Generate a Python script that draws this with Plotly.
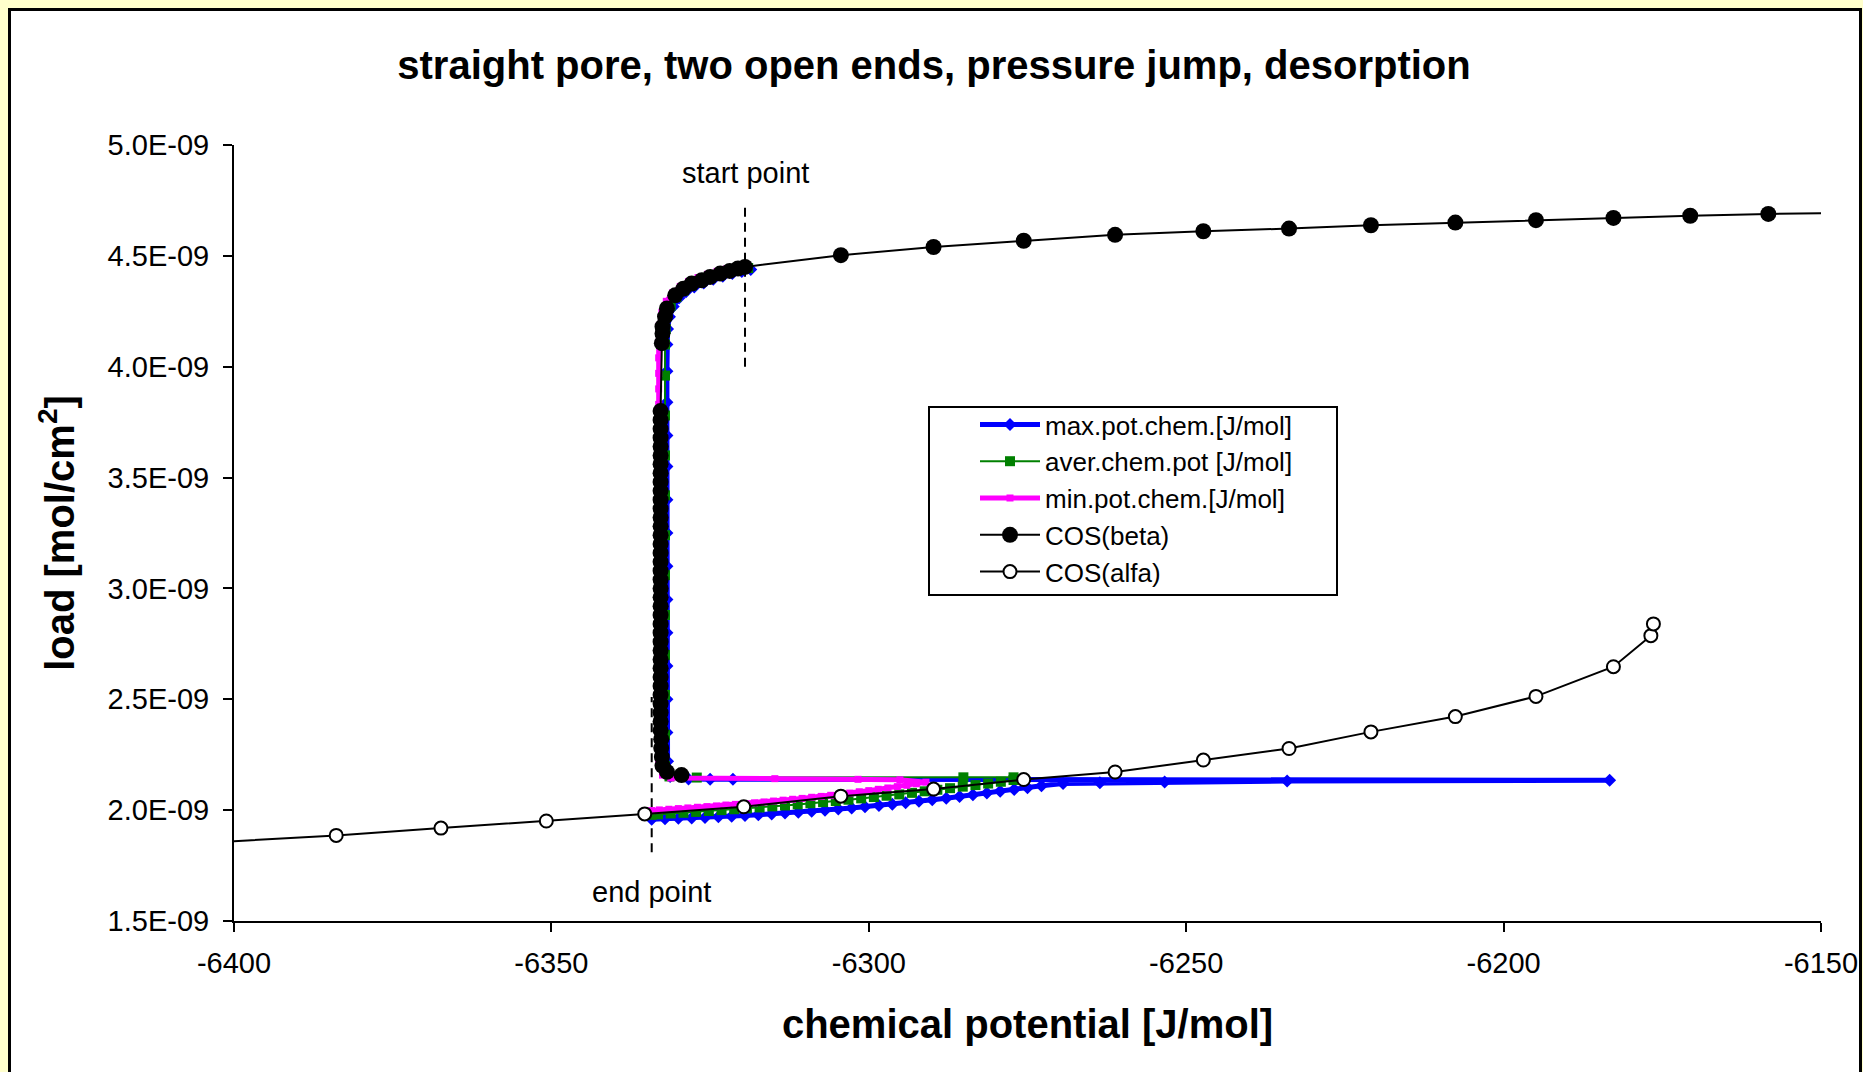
import plotly.graph_objects as go
import numpy as np

# ---------------- text ----------------
chart_title = "straight pore, two open ends, pressure jump, desorption"
x_title = "chemical potential [J/mol]"
y_title = "load [mol/cm<sup>2</sup>]"
x_tick_vals = [-6400, -6350, -6300, -6250, -6200, -6150]
x_tick_text = ["-6400", "-6350", "-6300", "-6250", "-6200", "-6150"]
y_tick_vals_e9 = [1.5, 2.0, 2.5, 3.0, 3.5, 4.0, 4.5, 5.0]
y_tick_text = ["1.5E-09", "2.0E-09", "2.5E-09", "3.0E-09", "3.5E-09", "4.0E-09", "4.5E-09", "5.0E-09"]
series_names = ["max.pot.chem.[J/mol]", "aver.chem.pot [J/mol]", "min.pot.chem.[J/mol]", "COS(beta)", "COS(alfa)"]

# ---------------- data (load in units of 1E-09 mol/cm2) ----------------
max_x = [-6318.6, -6320.0, -6321.5, -6323.0, -6324.5, -6326.0, -6327.5, -6328.8, -6329.9, -6330.8, -6331.4, -6331.7, -6331.8,
         -6331.8, -6331.8, -6331.8, -6331.8, -6331.8, -6331.8, -6331.8, -6331.8, -6331.8, -6331.8, -6331.8, -6331.8, -6331.7,
         -6331.3, -6328.4, -6325.0, -6321.4,
         -6183.3, -6234.1, -6253.4, -6263.6, -6269.4,
         -6272.8, -6275.0, -6277.1, -6279.3, -6281.4, -6283.6, -6285.7, -6287.8, -6290.0, -6292.1, -6294.2, -6296.3, -6298.4,
         -6300.6, -6302.7, -6304.8, -6306.9, -6309.0, -6311.1, -6313.2, -6315.3, -6317.4, -6319.5, -6321.6, -6323.7, -6325.8,
         -6327.9, -6330.0, -6332.1, -6334.2]
max_y = [4.438, 4.430, 4.420, 4.408, 4.394, 4.378, 4.360, 4.338, 4.310, 4.272, 4.225, 4.170, 4.100,
         3.98, 3.84, 3.69, 3.55, 3.40, 3.25, 3.10, 2.95, 2.80, 2.65, 2.50, 2.35, 2.22,
         2.152, 2.140, 2.139, 2.139,
         2.135, 2.131, 2.127, 2.124, 2.120,
         2.110, 2.101, 2.093, 2.085, 2.077, 2.069, 2.061, 2.054, 2.047, 2.040, 2.033, 2.027, 2.021,
         2.015, 2.010, 2.005, 2.000, 1.995, 1.991, 1.987, 1.983, 1.979, 1.976, 1.973, 1.970, 1.967,
         1.965, 1.963, 1.961, 1.959]

aver_x = [-6319.0, -6320.4, -6321.9, -6323.4, -6324.9, -6326.4, -6327.9, -6329.2, -6330.3, -6331.2, -6331.8, -6332.0, -6332.1,
          -6332.1, -6332.1, -6332.1, -6332.1, -6332.1, -6332.1, -6332.1, -6332.1, -6332.1, -6332.1, -6332.1,
          -6331.4, -6327.1, -6285.1, -6277.2,
          -6277.2, -6279.2, -6281.2, -6283.2, -6285.2, -6287.2, -6289.2, -6291.2, -6293.2, -6295.2, -6297.2, -6299.2,
          -6301.2, -6303.2, -6305.2, -6307.2, -6309.2, -6311.2, -6313.2, -6315.2, -6317.2, -6319.2, -6321.2, -6323.2,
          -6325.2, -6327.2, -6329.2, -6331.2, -6333.2, -6334.2]
aver_y = [4.445, 4.437, 4.427, 4.415, 4.401, 4.385, 4.366, 4.343, 4.314, 4.275, 4.228, 4.170, 4.100,
          3.96, 3.78, 3.60, 3.42, 3.24, 3.06, 2.88, 2.70, 2.52, 2.34, 2.20,
          2.152, 2.147, 2.148, 2.148,
          2.136, 2.128, 2.120, 2.113, 2.106, 2.099, 2.092, 2.085, 2.078, 2.071, 2.065, 2.059,
          2.053, 2.047, 2.041, 2.036, 2.031, 2.026, 2.021, 2.017, 2.012, 2.008, 2.004, 2.000,
          1.996, 1.992, 1.988, 1.985, 1.981, 1.979]

min_x = [-6319.4, -6320.9, -6322.4, -6323.9, -6325.4, -6326.9, -6328.4, -6329.7, -6330.9, -6331.9, -6332.6, -6333.0, -6333.1,
         -6333.1, -6333.1, -6333.1, -6333.1, -6333.1, -6333.1, -6333.1, -6333.1, -6333.1, -6333.1, -6333.1, -6333.1, -6333.1,
         -6333.1, -6333.1, -6333.1,
         -6332.5, -6331.2, -6314.8, -6301.7, -6295.1,
         -6291.0, -6292.5, -6294.0, -6295.5, -6297.0, -6298.5, -6300.0, -6301.5, -6303.0, -6304.5, -6306.0, -6307.5, -6309.0,
         -6310.5, -6312.0, -6313.5, -6315.0, -6316.5, -6318.0, -6319.5, -6321.0, -6322.5, -6324.0, -6325.5, -6327.0, -6328.5,
         -6330.0, -6331.5, -6333.0, -6334.2]
min_y = [4.456, 4.450, 4.441, 4.430, 4.417, 4.402, 4.384, 4.362, 4.333, 4.295, 4.245, 4.185, 4.110,
         4.04, 3.97, 3.90, 3.83, 3.70, 3.55, 3.40, 3.25, 3.10, 2.95, 2.80, 2.65, 2.50,
         2.35, 2.28, 2.22,
         2.158, 2.145, 2.142, 2.139, 2.137,
         2.126, 2.119, 2.112, 2.106, 2.100, 2.094, 2.088, 2.083, 2.077, 2.072, 2.067, 2.062, 2.058,
         2.053, 2.049, 2.045, 2.041, 2.037, 2.033, 2.030, 2.026, 2.023, 2.019, 2.016, 2.013, 2.010,
         2.007, 2.004, 2.001, 1.998]

beta_x = [-6329.5, -6331.8, -6332.5,
          -6332.6, -6332.7, -6332.7, -6332.8, -6332.8, -6332.8, -6332.8, -6332.8, -6332.8, -6332.8, -6332.8, -6332.8,
          -6332.8, -6332.8, -6332.8, -6332.8, -6332.8, -6332.8, -6332.8, -6332.8, -6332.8, -6332.8, -6332.8, -6332.8,
          -6332.8, -6332.8, -6332.8, -6332.8, -6332.8, -6332.8, -6332.8, -6332.8, -6332.8, -6332.8, -6332.8, -6332.8,
          -6332.8, -6332.8, -6332.8, -6332.8,
          -6332.6, -6332.5, -6332.5, -6332.1, -6331.8, -6330.5, -6329.2, -6327.9, -6326.3, -6325.0, -6323.4, -6321.9,
          -6320.6, -6319.5,
          -6304.4, -6289.8, -6275.6, -6261.2, -6247.3, -6233.8, -6220.9, -6207.6, -6194.9, -6182.7, -6170.6, -6158.3,
          -6148.5]
beta_y = [2.158, 2.173, 2.200,
          2.24, 2.28, 2.32, 2.36, 2.40, 2.44, 2.48, 2.52, 2.56, 2.60, 2.64, 2.68,
          2.72, 2.76, 2.80, 2.84, 2.88, 2.92, 2.96, 3.00, 3.04, 3.08, 3.12, 3.16,
          3.20, 3.24, 3.28, 3.32, 3.36, 3.40, 3.44, 3.48, 3.52, 3.56, 3.60, 3.64,
          3.68, 3.72, 3.76, 3.80,
          4.106, 4.150, 4.181, 4.226, 4.263, 4.322, 4.352, 4.375, 4.390, 4.405, 4.420, 4.432,
          4.443, 4.450,
          4.503, 4.540, 4.568, 4.595, 4.611, 4.623, 4.638, 4.650, 4.661, 4.671, 4.681, 4.689,
          4.693]

alfa_x = [-6403.0, -6383.9, -6367.4, -6350.8, -6335.3, -6319.7, -6304.4, -6289.8, -6275.6, -6261.2, -6247.3,
          -6233.8, -6220.9, -6207.6, -6194.9, -6182.7, -6176.8, -6176.4]
alfa_y = [1.855, 1.886, 1.919, 1.951, 1.983, 2.015, 2.063, 2.095, 2.138, 2.172, 2.226,
          2.278, 2.353, 2.422, 2.513, 2.647, 2.787, 2.840]

# annotation guides: [x, y_low, y_high] of dashed guide lines, label positions
start_line = [-6319.5, 4.00, 4.72]
end_line = [-6334.2, 1.81, 2.51]
start_label = ["start point", -6319.5, 4.874]
end_label = ["end point", -6334.2, 1.631]

E9 = 1e-9
FONT = "Arial, 'Liberation Sans', sans-serif"

fig = go.Figure()

fig.add_trace(go.Scatter(
    x=max_x, y=np.array(max_y) * E9, name=series_names[0], mode="lines+markers",
    line=dict(color="#0000FF", width=5),
    marker=dict(symbol="diamond", size=10, color="#0000FF", line=dict(width=0)),
    legendgroup="g1"))
fig.add_trace(go.Scatter(
    x=aver_x, y=np.array(aver_y) * E9, name=series_names[1], mode="lines+markers",
    line=dict(color="#008000", width=2),
    marker=dict(symbol="square", size=10, color="#008000", line=dict(width=0)),
    legendgroup="g2"))
fig.add_trace(go.Scatter(
    x=min_x, y=np.array(min_y) * E9, name=series_names[2], mode="lines+markers",
    line=dict(color="#FF00FF", width=5),
    marker=dict(symbol="square", size=7, color="#FF00FF", line=dict(width=0)),
    legendgroup="g3"))
fig.add_trace(go.Scatter(
    x=beta_x, y=np.array(beta_y) * E9, name=series_names[3], mode="lines+markers",
    line=dict(color="black", width=2),
    marker=dict(symbol="circle", size=16, color="black", line=dict(width=0)),
    legendgroup="g4"))
fig.add_trace(go.Scatter(
    x=alfa_x, y=np.array(alfa_y) * E9, name=series_names[4], mode="lines+markers",
    line=dict(color="black", width=2),
    marker=dict(symbol="circle", size=13, color="white", line=dict(width=2, color="black")),
    legendgroup="g5"))

# geometry of plot area in pixels
W, H = 1863, 1072
L, R, T, B = 234, 42, 145, 151
pw, ph = W - L - R, H - T - B

def px_x(p):
    return (p - L) / pw

def px_y(p):
    return (H - B - p) / ph

shapes = [
    # white chart area with black frame
    dict(type="rect", xref="paper", yref="paper", layer="below",
         x0=px_x(9.5), x1=px_x(1860.5), y0=px_y(1100), y1=px_y(9.5),
         fillcolor="white", line=dict(color="black", width=3)),
    # legend box
    dict(type="rect", xref="paper", yref="paper", layer="below",
         x0=px_x(929), x1=px_x(1337), y0=px_y(595), y1=px_y(407),
         fillcolor="white", line=dict(color="black", width=2)),
    dict(type="line", xref="x", yref="y", layer="below",
         x0=start_line[0], x1=start_line[0], y0=start_line[1] * E9, y1=start_line[2] * E9,
         line=dict(color="black", width=2, dash="9px,6px")),
    dict(type="line", xref="x", yref="y", layer="below",
         x0=end_line[0], x1=end_line[0], y0=end_line[1] * E9, y1=end_line[2] * E9,
         line=dict(color="black", width=2, dash="9px,6px")),
]

annotations = [
    dict(text=start_label[0], x=start_label[1], y=start_label[2] * E9, xref="x", yref="y",
         showarrow=False, font=dict(size=29, color="black", family=FONT), xanchor="center", yanchor="middle"),
    dict(text=end_label[0], x=end_label[1], y=end_label[2] * E9, xref="x", yref="y",
         showarrow=False, font=dict(size=29, color="black", family=FONT), xanchor="center", yanchor="middle"),
]

fig.update_layout(
    width=W, height=H, autosize=False,
    margin=dict(l=L, r=R, t=T, b=B, pad=0, autoexpand=False),
    paper_bgcolor="#FFFFCC", plot_bgcolor="white",
    font=dict(family=FONT, color="black"),
    title=dict(text=chart_title, x=934 / W, xref="container", xanchor="center",
               y=1 - 65 / H, yref="container", yanchor="middle",
               font=dict(size=40, weight="bold", color="black", family=FONT)),
    shapes=shapes, annotations=annotations,
    showlegend=True,
    legend=dict(x=px_x(975), y=px_y(401), xanchor="left", yanchor="top",
                bgcolor="rgba(0,0,0,0)", borderwidth=0,
                font=dict(size=26, color="black", family=FONT),
                itemwidth=60, tracegroupgap=3, traceorder="normal"),
)

fig.update_xaxes(
    range=[-6400, -6150], tickvals=x_tick_vals, ticktext=x_tick_text, automargin=False,
    showline=True, linecolor="black", linewidth=2, mirror=False,
    ticks="outside", ticklen=9, tickwidth=2, tickcolor="black", ticklabelstandoff=6,
    tickfont=dict(size=29, family=FONT, color="black"),
    showgrid=False, zeroline=False,
    title=dict(text=x_title, font=dict(size=40, weight="bold", family=FONT, color="black"), standoff=32),
)
fig.update_yaxes(
    range=[1.5 * E9, 5.0 * E9], tickvals=[v * E9 for v in y_tick_vals_e9], ticktext=y_tick_text, automargin=False,
    showline=True, linecolor="black", linewidth=2, mirror=False,
    ticks="outside", ticklen=9, tickwidth=2, tickcolor="black", ticklabelstandoff=8,
    tickfont=dict(size=29, family=FONT, color="black"),
    showgrid=False, zeroline=False,
    title=dict(text=y_title, font=dict(size=40, weight="bold", family=FONT, color="black"), standoff=21),
)

fig.write_html(
    "out.html",
    config={"displayModeBar": False},
    post_script="document.body.style.margin='0';document.body.style.background='#FFFFCC';",
)
